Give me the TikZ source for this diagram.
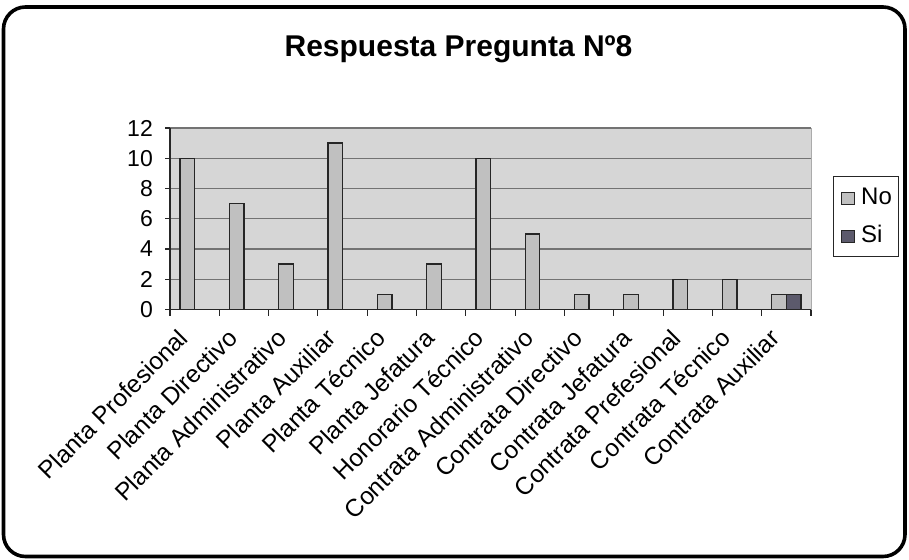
\documentclass[tikz,border=0pt]{standalone}
\usepackage{fontspec}
\setmainfont{Liberation Sans}
\definecolor{plotbg}{RGB}{214,214,214}
\definecolor{barno}{RGB}{192,192,192}
\definecolor{barsi}{RGB}{92,90,108}
\definecolor{gridc}{RGB}{115,115,115}
\begin{document}
\begin{tikzpicture}[x=1pt,y=-1pt,
  lab/.style={font=\fontsize{23}{27}\selectfont, inner sep=0pt},
  catlab/.style={font=\fontsize{24.5}{28}\selectfont, inner sep=0pt, rotate=45, anchor=base east},
  nobar/.style={fill=barno, draw=black!85, line width=1.3pt},
  sibar/.style={fill=barsi, draw=black!85, line width=1.3pt},
  gridline/.style={draw=gridc, line width=1.1pt},
  axisline/.style={draw=black!85, line width=1.1pt}]
\pgfmathsetmacro{\Xa}{170}
\pgfmathsetmacro{\Xb}{811}
\pgfmathsetmacro{\Ya}{309.5}
\pgfmathsetmacro{\Yb}{128}
\pgfmathsetmacro{\cw}{(\Xb-\Xa)/13}
\pgfmathsetmacro{\uy}{(\Ya-\Yb)/12}
\pgfmathsetmacro{\bw}{14.6}
\pgfmathsetmacro{\off}{(\cw-2*\bw)/2}
\useasboundingbox (0,0) rectangle (909,559);
\fill[white] (0,0) rectangle (909,559);
\draw[line width=3.6pt, rounded corners=22pt] (3.5,7) rectangle (905,556.5);
% title
\node[font=\bfseries\fontsize{30}{36}\selectfont, inner sep=0pt, anchor=base] (title) at (458.5,57) {Respuesta Pregunta Nº8};
% plot area
\fill[plotbg] (\Xa,\Yb) rectangle (\Xb,\Ya);
\draw[draw=gridc!60, line width=0.8pt] (\Xb,\Yb) -- (\Xb,\Ya);
\foreach \v in {2,4,...,12}{
  \draw[gridline] (\Xa,{\Ya-\v*\uy}) -- (\Xb,{\Ya-\v*\uy});
}
% bars
\foreach \v [count=\i from 0] in {10,7,3,11,1,3,10,5,1,1,2,2,1}{
  \draw[nobar] ({\Xa+\i*\cw+\off},\Ya) rectangle ({\Xa+\i*\cw+\off+\bw},{\Ya-\v*\uy});
}
\draw[sibar] ({\Xa+12*\cw+\off+\bw},\Ya) rectangle ({\Xa+12*\cw+\off+2*\bw},{\Ya-1*\uy});
% axes
\draw[axisline] (\Xa,\Yb) -- (\Xa,\Ya) -- (\Xb,\Ya);
\foreach \v in {0,2,...,12}{
  \draw[axisline] (\Xa-5,{\Ya-\v*\uy}) -- (\Xa,{\Ya-\v*\uy});
  \node[lab, anchor=east] (y\v) at (153,{\Ya-\v*\uy}) {\v};
}
\foreach \i in {0,...,13}{
  \draw[axisline] ({\Xa+\i*\cw},\Ya) -- ({\Xa+\i*\cw},\Ya+6);
}
% category labels
\foreach \t [count=\i from 0] in {Planta Profesional,Planta Directivo,Planta Administrativo,Planta Auxiliar,Planta Técnico,Planta Jefatura,Honorario Técnico,Contrata Administrativo,Contrata Directivo,Contrata Jefatura,Contrata Prefesional,Contrata Técnico,Contrata Auxiliar}{
  \node[catlab] (c\i) at ({\Xa+(\i+0.5)*\cw-5},340) {\t};
}
% legend
\draw[draw=black!85, line width=1pt] (833,176) rectangle (898,256);
\draw[nobar, line width=0.9pt] (841,192) rectangle (854,204);
\draw[sibar, line width=0.9pt] (841,230) rectangle (854,242);
\node[font=\fontsize{24}{28}\selectfont, inner sep=0pt, anchor=base west] (lno) at (861,204) {No};
\node[font=\fontsize{24}{28}\selectfont, inner sep=0pt, anchor=base west] (lsi) at (861,242) {Si};
\end{tikzpicture}
\end{document}
